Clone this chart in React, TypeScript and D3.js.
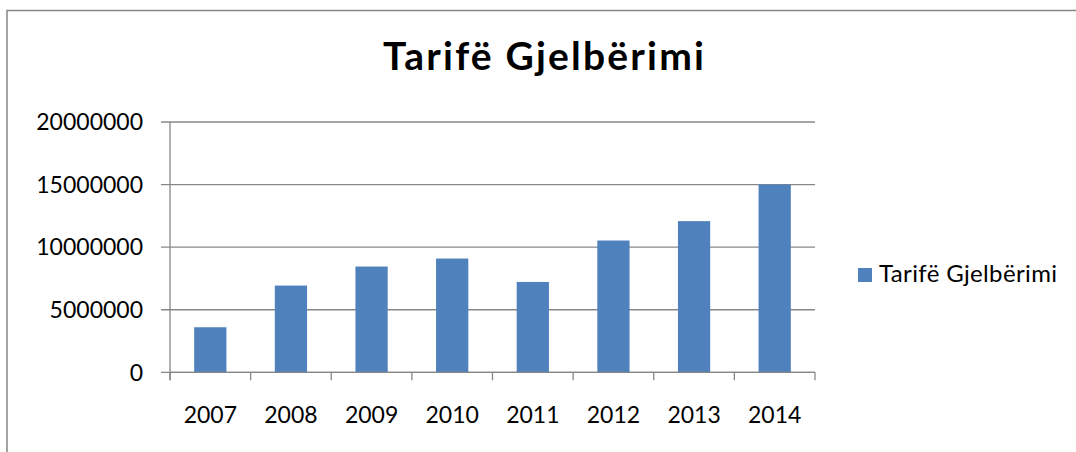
import React, { useRef, useEffect } from "react";
import * as d3 from "d3";

// data
const years = ["2007", "2008", "2009", "2010", "2011", "2012", "2013", "2014"];
const tarifa = [3600000, 6930000, 8450000, 9090000, 7220000, 10530000, 12080000, 15000000];
const yTicks = [0, 5000000, 10000000, 15000000, 20000000];
const title = "Tarifë Gjelbërimi";
const seriesName = "Tarifë Gjelbërimi";

const width = 1076;
const height = 452;
const font = "Lato, 'Open Sans', sans-serif";

const App = () => {
  const svgRef = useRef<SVGSVGElement>(null);

  useEffect(() => {
    const svg = d3.select(svgRef.current);
    svg.selectAll("*").remove();

    const left = 170;
    const right = 815;
    const top = 122;
    const bottom = 372.3;
    const grey = "#878787";

    // chart frame (runs off the right and bottom edges)
    svg
      .append("path")
      .attr("d", `M7,${height + 5} L7,10.5 L${width + 5},10.5`)
      .attr("fill", "none")
      .attr("stroke", grey)
      .attr("stroke-width", 1.5);

    const x = d3
      .scaleBand<string>()
      .domain(years)
      .range([left, right])
      .paddingInner(0.6)
      .paddingOuter(0.3);

    const y = d3.scaleLinear().domain([0, 20000000]).range([bottom, top]);

    // gridlines + y ticks
    const yg = svg.append("g");
    yg.selectAll("line")
      .data(yTicks)
      .enter()
      .append("line")
      .attr("x1", left - 9)
      .attr("x2", right)
      .attr("y1", (d) => y(d))
      .attr("y2", (d) => y(d))
      .attr("stroke", grey)
      .attr("stroke-width", 1.3);

    yg.selectAll("text")
      .data(yTicks)
      .enter()
      .append("text")
      .attr("x", 143)
      .attr("y", (d) => y(d))
      .attr("dy", "0.36em")
      .attr("text-anchor", "end")
      .attr("font-family", font)
      .attr("font-size", 23)
      .attr("fill", "#000")
      .text((d) => String(d));

    // bars
    svg
      .append("g")
      .selectAll("rect")
      .data(tarifa)
      .enter()
      .append("rect")
      .attr("x", (d, i) => x(years[i]) as number)
      .attr("width", x.bandwidth())
      .attr("y", (d) => y(d))
      .attr("height", (d) => bottom - y(d))
      .attr("fill", "#4F81BD");

    // axes lines
    svg
      .append("line")
      .attr("x1", left)
      .attr("x2", left)
      .attr("y1", top)
      .attr("y2", bottom + 8)
      .attr("stroke", grey)
      .attr("stroke-width", 1.3);

    svg
      .append("line")
      .attr("x1", left)
      .attr("x2", right)
      .attr("y1", bottom)
      .attr("y2", bottom)
      .attr("stroke", grey)
      .attr("stroke-width", 1.3);

    // x ticks at band edges
    const edges = years.map((d) => (x(d) as number) - x.step() * 0.3).concat([right]);
    svg
      .append("g")
      .selectAll("line")
      .data(edges)
      .enter()
      .append("line")
      .attr("x1", (d) => d)
      .attr("x2", (d) => d)
      .attr("y1", bottom)
      .attr("y2", bottom + 8)
      .attr("stroke", grey)
      .attr("stroke-width", 1.3);

    svg
      .append("g")
      .selectAll("text")
      .data(years)
      .enter()
      .append("text")
      .attr("x", (d) => (x(d) as number) + x.bandwidth() / 2)
      .attr("y", 423)
      .attr("text-anchor", "middle")
      .attr("font-family", font)
      .attr("font-size", 23)
      .attr("fill", "#000")
      .text((d) => d);

    // title
    svg
      .append("text")
      .attr("x", 383)
      .attr("y", 70)
      .attr("font-family", font)
      .attr("font-weight", "bold")
      .attr("font-size", 39)
      .attr("textLength", 321)
      .attr("fill", "#000")
      .text(title);

    // legend
    svg
      .append("rect")
      .attr("x", 858)
      .attr("y", 268)
      .attr("width", 14)
      .attr("height", 14)
      .attr("fill", "#4F81BD");
    svg
      .append("text")
      .attr("x", 879)
      .attr("y", 282)
      .attr("font-family", font)
      .attr("font-size", 24)
      .attr("textLength", 178)
      .attr("fill", "#000")
      .text(seriesName);
  }, []);

  return (
    <svg
      ref={svgRef}
      width={width}
      height={height}
      style={{ position: "absolute", left: 0, top: 0, background: "#fff" }}
    />
  );
};

export default App;
